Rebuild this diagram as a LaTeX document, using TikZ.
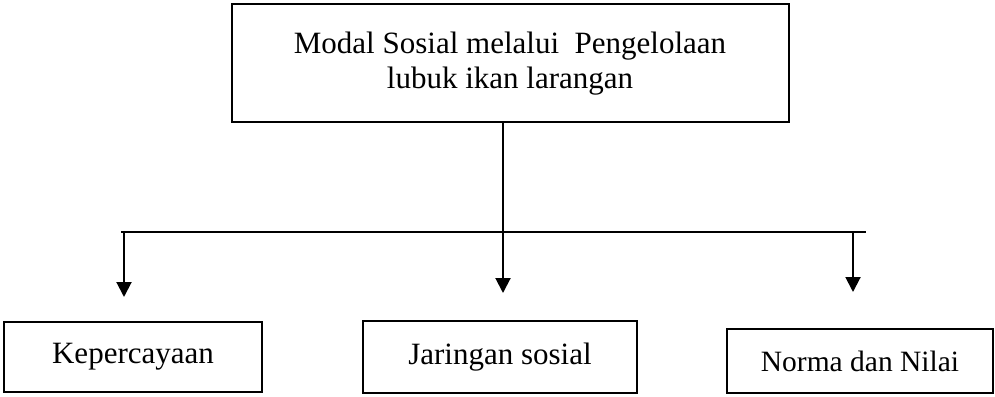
\documentclass[tikz,border=0pt]{standalone}
\usepackage{fontspec}
\setmainfont{Liberation Serif}
\usetikzlibrary{arrows.meta}
\tikzset{
  boxnode/.style={draw=black, line width=2.5pt, rectangle, inner sep=0pt, fill=white},
  labeltext/.style={font=\fontsize{31}{35}\selectfont, inner sep=0pt},
  smalltext/.style={font=\fontsize{29.5}{34}\selectfont, inner sep=0pt},
  linkline/.style={draw=black, line width=2pt},
  downarrow/.style={draw=black, line width=2pt, -{Triangle[length=15pt,width=15pt]}}
}
\begin{document}
\begin{tikzpicture}[x=1pt,y=-1pt]
\useasboundingbox (0,0) rectangle (995,396);
% top box
\node[boxnode, minimum width=557pt, minimum height=118pt] (top) at (510.5,63) {};
\node[labeltext, anchor=base] (topA) at (510,53) {Modal Sosial melalui\ \ Pengelolaan};
\node[labeltext, anchor=base] (topB) at (510,88) {lubuk ikan larangan};
% bottom boxes
\node[boxnode, minimum width=258pt, minimum height=70pt, labeltext] (kep) at (133,357) {Kepercayaan};
\node[boxnode, minimum width=274pt, minimum height=72pt, labeltext] (jar) at (500,357) {Jaringan sosial};
\node[boxnode, minimum width=266pt, minimum height=64pt, smalltext] (nor) at (860,361) {Norma dan Nilai};
% connector coordinates
\coordinate (stemTop) at (503,122);
\coordinate (busL) at (121,232);
\coordinate (busM) at (503,232);
\coordinate (busR) at (866,232);
\coordinate (aL) at (124,232);
\coordinate (aR) at (853,232);
\coordinate (tipL) at (124,297);
\coordinate (tipM) at (503,293);
\coordinate (tipR) at (853,292);
% connectors
\draw[linkline] (stemTop) -- (busM);
\draw[linkline] (busL) -- (busR);
\draw[downarrow] (aL) -- (tipL);
\draw[downarrow] (busM) -- (tipM);
\draw[downarrow] (aR) -- (tipR);
\end{tikzpicture}
\end{document}
